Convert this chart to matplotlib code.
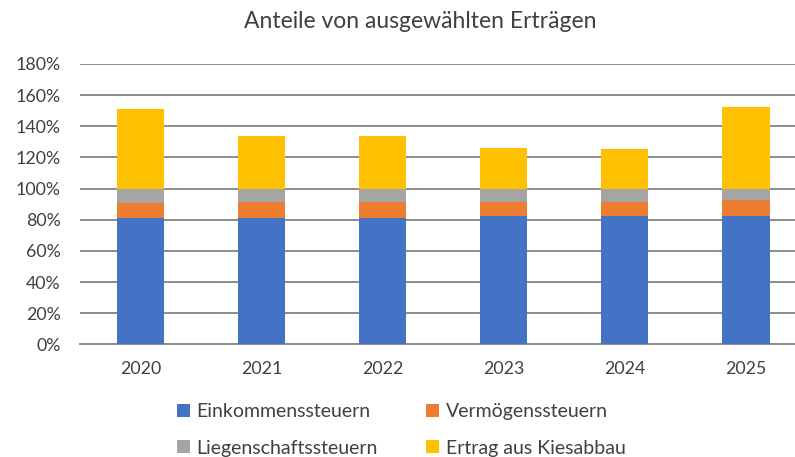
import matplotlib
matplotlib.use("Agg")
import matplotlib.pyplot as plt
from matplotlib.patches import Patch
from matplotlib.ticker import FuncFormatter

years = ["2020", "2021", "2022", "2023", "2024", "2025"]
einkommen = [81.3, 81.3, 81.3, 82.4, 82.4, 82.4]
vermoegen = [9.6, 10.2, 10.2, 9.0, 9.0, 10.0]
liegenschaft = [9.1, 8.5, 8.5, 8.6, 8.6, 7.6]
kies = [51.0, 34.0, 34.0, 26.3, 25.4, 52.6]

series_names = ["Einkommenssteuern", "Vermögenssteuern", "Liegenschaftssteuern", "Ertrag aus Kiesabbau"]
colors = ["#4472C4", "#ED7D31", "#A5A5A5", "#FFC000"]
yticks = [0, 20, 40, 60, 80, 100, 120, 140, 160, 180]

plt.rcParams['font.family'] = ['Lato', 'DejaVu Sans']
txt = "#404040"

fig = plt.figure(figsize=(7.95, 4.57), dpi=100)
ax = fig.add_axes([80/795, 1 - 344.3/457, 1 - 80/795, (344.3 - 64)/457])

x = list(range(len(years)))
bottom = [0.0] * len(years)
for vals, c in zip([einkommen, vermoegen, liegenschaft, kies], colors):
    ax.bar(x, vals, width=0.39, bottom=bottom, color=c, zorder=3)
    bottom = [b + v for b, v in zip(bottom, vals)]

ax.set_xlim(-0.5, 5.405)
ax.set_ylim(0, 180)
ax.set_yticks(yticks)
ax.yaxis.set_major_formatter(FuncFormatter(lambda v, p: f"{int(v)}%"))
ax.set_xticks(x)
ax.set_xticklabels(years)
ax.grid(axis='y', color='#8c8c8c', linewidth=1.4, zorder=0)
for s in ['top', 'right', 'left']:
    ax.spines[s].set_visible(False)
ax.spines['bottom'].set_color('#8c8c8c')
ax.spines['bottom'].set_linewidth(1.4)
ax.tick_params(axis='both', length=0, labelsize=12.8, colors=txt)
ax.tick_params(axis='x', pad=12)
ax.tick_params(axis='y', pad=14)

fig.text(420/795, 1 - 22/457, "Anteile von ausgewählten Erträgen", ha='center', va='center',
         fontsize=16.5, color=txt)

order = [0, 2, 1, 3]
handles = [Patch(facecolor=colors[i], edgecolor='none') for i in order]
labels = [series_names[i] for i in order]
leg = fig.legend(handles, labels, ncol=2, loc='center left', bbox_to_anchor=(177/795, 1 - 430/457),
                 frameon=False, fontsize=14, handlelength=0.65, handleheight=0.65,
                 handletextpad=0.35, columnspacing=2.5, labelspacing=1.0, labelcolor=txt,
                 borderpad=0, borderaxespad=0)

fig.savefig("out.png", dpi=100)
